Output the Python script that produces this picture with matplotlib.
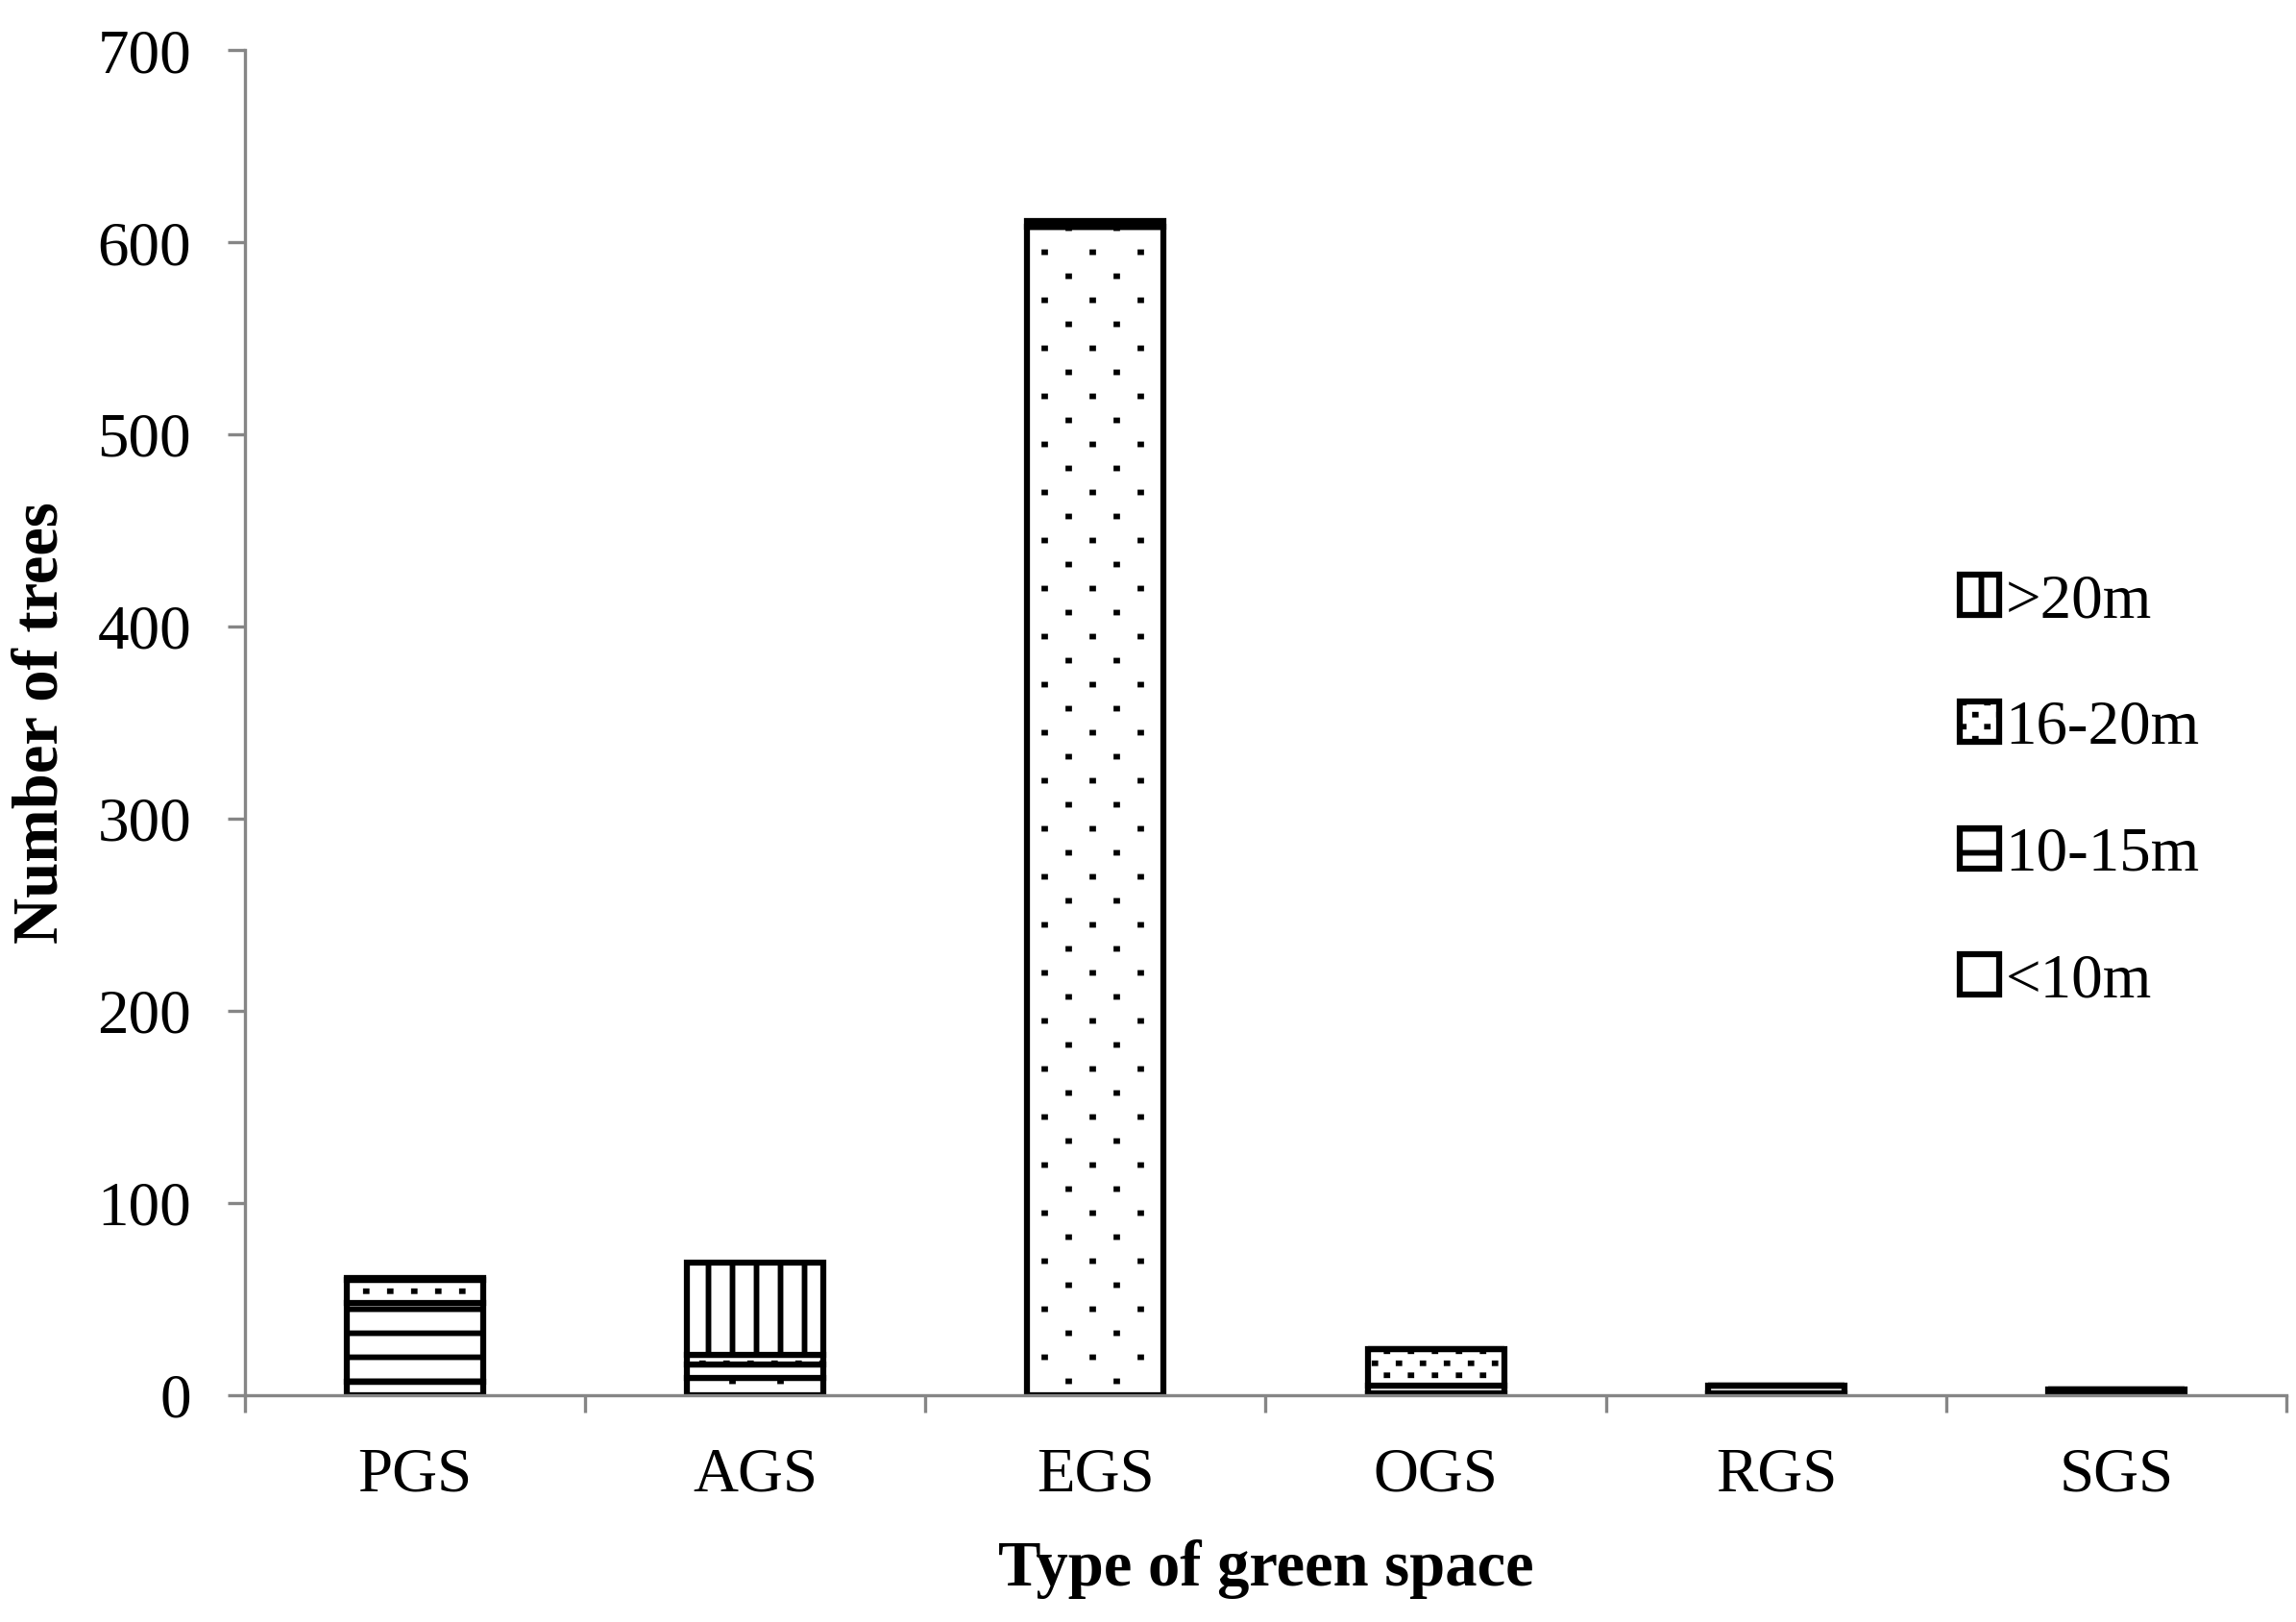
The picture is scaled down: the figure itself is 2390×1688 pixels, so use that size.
import matplotlib
matplotlib.use("Agg")
import numpy as np
import matplotlib.pyplot as plt
from matplotlib import hatch as mhatch
from matplotlib.path import Path
from matplotlib.patches import Patch


# Green space types and tree counts per height class
categories = ["PGS", "AGS", "EGS", "OGS", "RGS", "SGS"]
height_classes = ["<10m", "10-15m", "16-20m", ">20m"]
under_10 = [7, 9, 608, 1, 1, 0]
h_10_15 = [41, 7, 0, 4, 4, 3]
h_16_20 = [12, 5, 0, 19, 0, 0]
over_20 = [1, 48, 3, 0, 0, 0]
y_ticks = [0, 100, 200, 300, 400, 500, 600, 700]

series = [under_10, h_10_15, h_16_20, over_20]
hatches = [".", "--", "..", "||"]


class StaggeredDots(mhatch.HatchPatternBase):
    # Small square dots like the Excel dotted pattern fills:
    # staggered rows, twice as many rows as columns per hatch cell.
    # Each dot is a very short stroke, squared off by the line caps.
    def __init__(self, hatch, density):
        n = hatch.count(".")
        self.num_cols = n * density
        self.num_rows = 2 * n * density
        self.num_vertices = self.num_cols * self.num_rows * 2

    def set_vertices_and_codes(self, vertices, codes):
        half = 0.0015
        k = 0
        for r in range(self.num_rows):
            y = (r + 0.5) / self.num_rows
            shift = 0.5 / self.num_cols if r % 2 else 0.0
            for c in range(self.num_cols):
                x = (c + 0.25) / self.num_cols + shift
                vertices[k] = (x - half, y)
                vertices[k + 1] = (x + half, y)
                codes[k] = Path.MOVETO
                codes[k + 1] = Path.LINETO
                k += 2


idx = mhatch._hatch_types.index(mhatch.SmallFilledCircles)
mhatch._hatch_types[idx] = StaggeredDots

plt.rcParams["font.family"] = ["Liberation Serif", "DejaVu Serif"]
plt.rcParams["hatch.linewidth"] = 1.4
plt.rcParams["hatch.color"] = "black"

DPI = 300
fig = plt.figure(figsize=(2390 / DPI, 1688 / DPI), dpi=DPI)
ax = fig.add_axes([0.1065, 0.1398, 0.8895, 0.8292])

x = np.arange(len(categories))
bottom = np.zeros(len(categories))
for vals, hatch in zip(series, hatches):
    ax.bar(x, vals, width=0.4, bottom=bottom, color="white",
           edgecolor="black", linewidth=1.5, hatch=hatch)
    bottom += np.array(vals)

ax.set_xlim(-0.5, len(categories) - 0.5)
ax.set_ylim(0, 700)
ax.set_yticks(y_ticks)
ax.set_xticks(x)
ax.set_xticklabels(categories)
ax.set_xticks(np.arange(-0.5, len(categories)), minor=True)

gray = "#868686"
for side in ["top", "right"]:
    ax.spines[side].set_visible(False)
for side in ["left", "bottom"]:
    ax.spines[side].set_color(gray)
    ax.spines[side].set_linewidth(0.8)

ax.tick_params(axis="y", direction="out", length=4.3, width=0.8, color=gray,
               labelsize=15.6, pad=9)
ax.tick_params(axis="x", which="major", length=0, labelsize=15.6, pad=13)
ax.tick_params(axis="x", which="minor", direction="out", length=4.3,
               width=0.8, color=gray)

ax.set_xlabel("Type of green space", fontsize=16, fontweight="bold")
ax.set_ylabel("Number of trees", fontsize=16, fontweight="bold")
ax.xaxis.set_label_coords(0.5, -0.107)
ax.yaxis.set_label_coords(-0.085, 0.5)

handles = [Patch(facecolor="white", edgecolor="black", linewidth=1.5, hatch=h)
           for h in hatches]
ax.legend(handles[::-1], height_classes[::-1], loc="upper left",
          bbox_to_anchor=(0.84, 0.611), frameon=False, fontsize=15.6,
          handlelength=0.62, handleheight=0.62, handletextpad=0.11,
          labelspacing=1.11, borderpad=0, borderaxespad=0)

fig.savefig("out.png", dpi=DPI)
